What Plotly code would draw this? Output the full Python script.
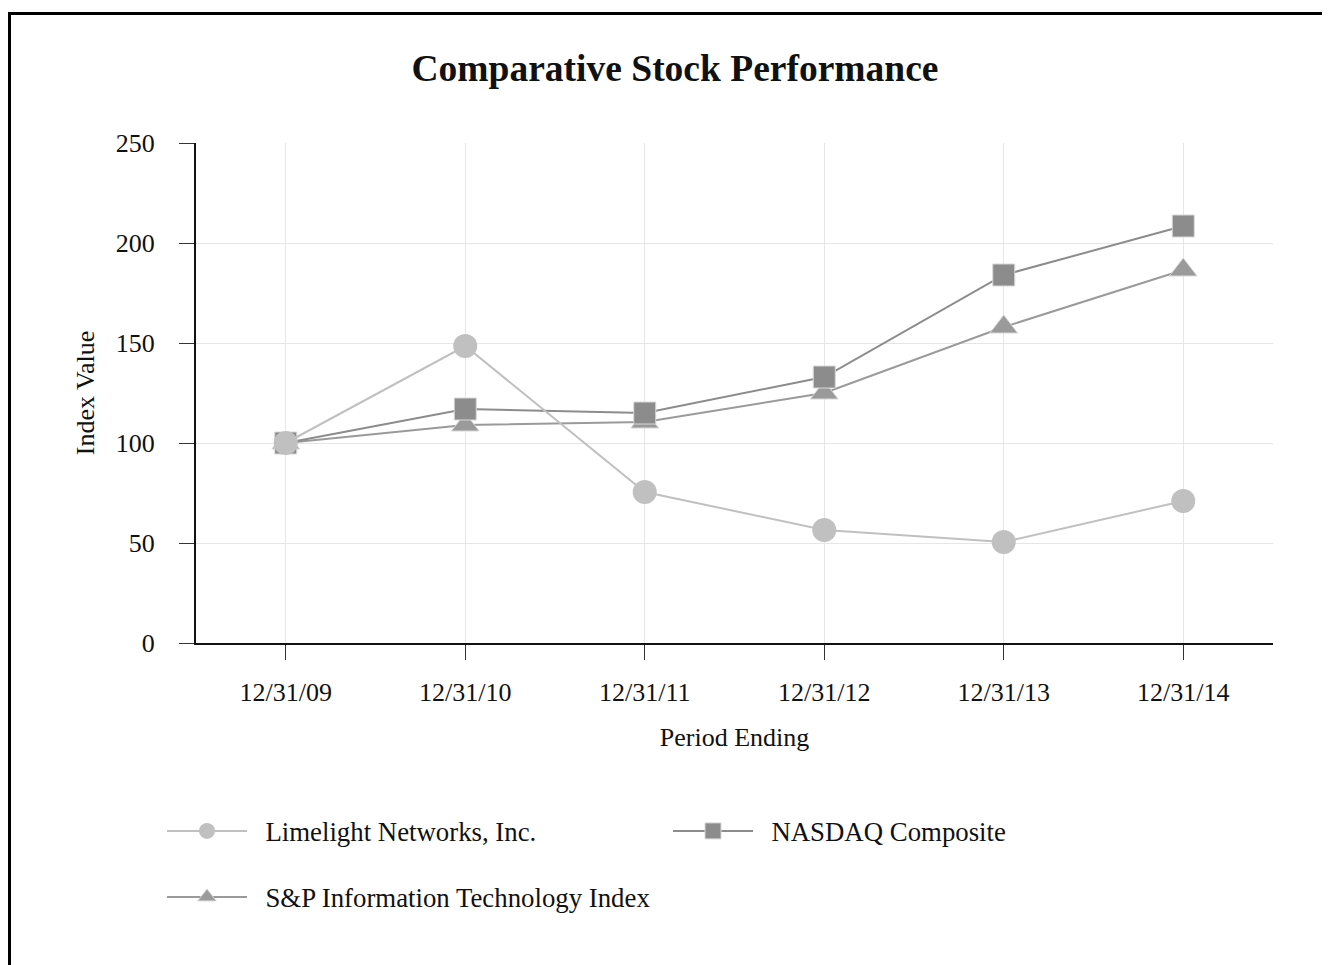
import plotly.graph_objects as go

periods = ["12/31/09", "12/31/10", "12/31/11", "12/31/12", "12/31/13", "12/31/14"]
limelight = [100, 148.5, 75.5, 56.5, 50.5, 71]
nasdaq = [100, 117, 115, 133, 184, 208.5]
sp_it = [100, 109, 110.5, 125, 158, 186.5]

FONT = "Liberation Serif, Times New Roman, serif"
PAD = "\u00a0\u00a0"

fig = go.Figure()
fig.add_trace(go.Scatter(
    x=periods, y=sp_it, name=PAD + "S&P Information Technology Index", mode="lines+markers",
    line=dict(color="#9a9a9a", width=2),
    marker=dict(symbol="triangle-up", size=24, color="#9a9a9a", line=dict(width=1, color="#d8d8d8")),
    legend="legend2"))
fig.add_trace(go.Scatter(
    x=periods, y=nasdaq, name=PAD + "NASDAQ Composite", mode="lines+markers",
    line=dict(color="#8c8c8c", width=2),
    marker=dict(symbol="square", size=22, color="#8c8c8c", line=dict(width=1, color="#d8d8d8")),
    legend="legend", legendrank=2))
fig.add_trace(go.Scatter(
    x=periods, y=limelight, name=PAD + "Limelight Networks, Inc.", mode="lines+markers",
    line=dict(color="#c0c0c0", width=2),
    marker=dict(symbol="circle", size=24, color="#c0c0c0"),
    legend="legend", legendrank=1))

# page body has an 8px margin; reference pixel = figure pixel + 8
OFF = 8
W, H = 1322, 957
L, R, T, B = 188, 57, 135, 322
pw, ph = W - L - R, H - T - B

def px2x(px):
    return (px - OFF - L) / pw

def py2y(py):
    return (H - B - (py - OFF)) / ph

LEGEND_FONT = dict(size=26.8, family=FONT, color="#111111")

fig.update_layout(
    width=W, height=H,
    margin=dict(l=L, r=R, t=T, b=B),
    paper_bgcolor="white", plot_bgcolor="white",
    font=dict(family=FONT, size=26, color="#111111"),
    title=dict(text="<b>Comparative Stock Performance</b>", x=px2x(675), xref="paper", xanchor="center",
               y=1 - (68 - OFF) / H, yanchor="middle", font=dict(size=37.5, family=FONT, color="#111111")),
    xaxis=dict(
        type="category", range=[-0.5, 5.5],
        showgrid=True, gridcolor="#e6e6e6", gridwidth=1,
        showline=True, linecolor="#111111", linewidth=2,
        ticks="outside", ticklen=15, tickcolor="#333333", tickwidth=1,
        ticklabelstandoff=10,
        title=dict(text="Period Ending", standoff=22, font=dict(size=26, family=FONT)),
        zeroline=False, fixedrange=True,
    ),
    yaxis=dict(
        range=[0, 250], tickvals=[0, 50, 100, 150, 200, 250],
        showgrid=True, gridcolor="#e6e6e6", gridwidth=1,
        showline=True, linecolor="#111111", linewidth=2,
        ticks="outside", ticklen=15, tickcolor="#333333", tickwidth=1,
        ticklabelstandoff=19,
        title=dict(text="Index Value", standoff=14, font=dict(size=26, family=FONT)),
        zeroline=False, fixedrange=True,
    ),
    legend=dict(
        orientation="h", x=px2x(162), xanchor="left", y=py2y(831), yanchor="middle",
        entrywidth=411, entrywidthmode="pixels", itemwidth=80,
        font=LEGEND_FONT, bgcolor="rgba(0,0,0,0)",
    ),
    legend2=dict(
        orientation="h", x=px2x(162), xanchor="left", y=py2y(897), yanchor="middle",
        itemwidth=80,
        font=LEGEND_FONT, bgcolor="rgba(0,0,0,0)",
    ),
    shapes=[
        dict(type="line", xref="paper", yref="paper", x0=px2x(9.5), x1=px2x(1340), y0=py2y(13.5), y1=py2y(13.5),
             line=dict(color="black", width=3)),
        dict(type="line", xref="paper", yref="paper", x0=px2x(9.5), x1=px2x(9.5), y0=py2y(12), y1=py2y(975),
             line=dict(color="black", width=3)),
    ],
)

fig.write_html("out.html")
